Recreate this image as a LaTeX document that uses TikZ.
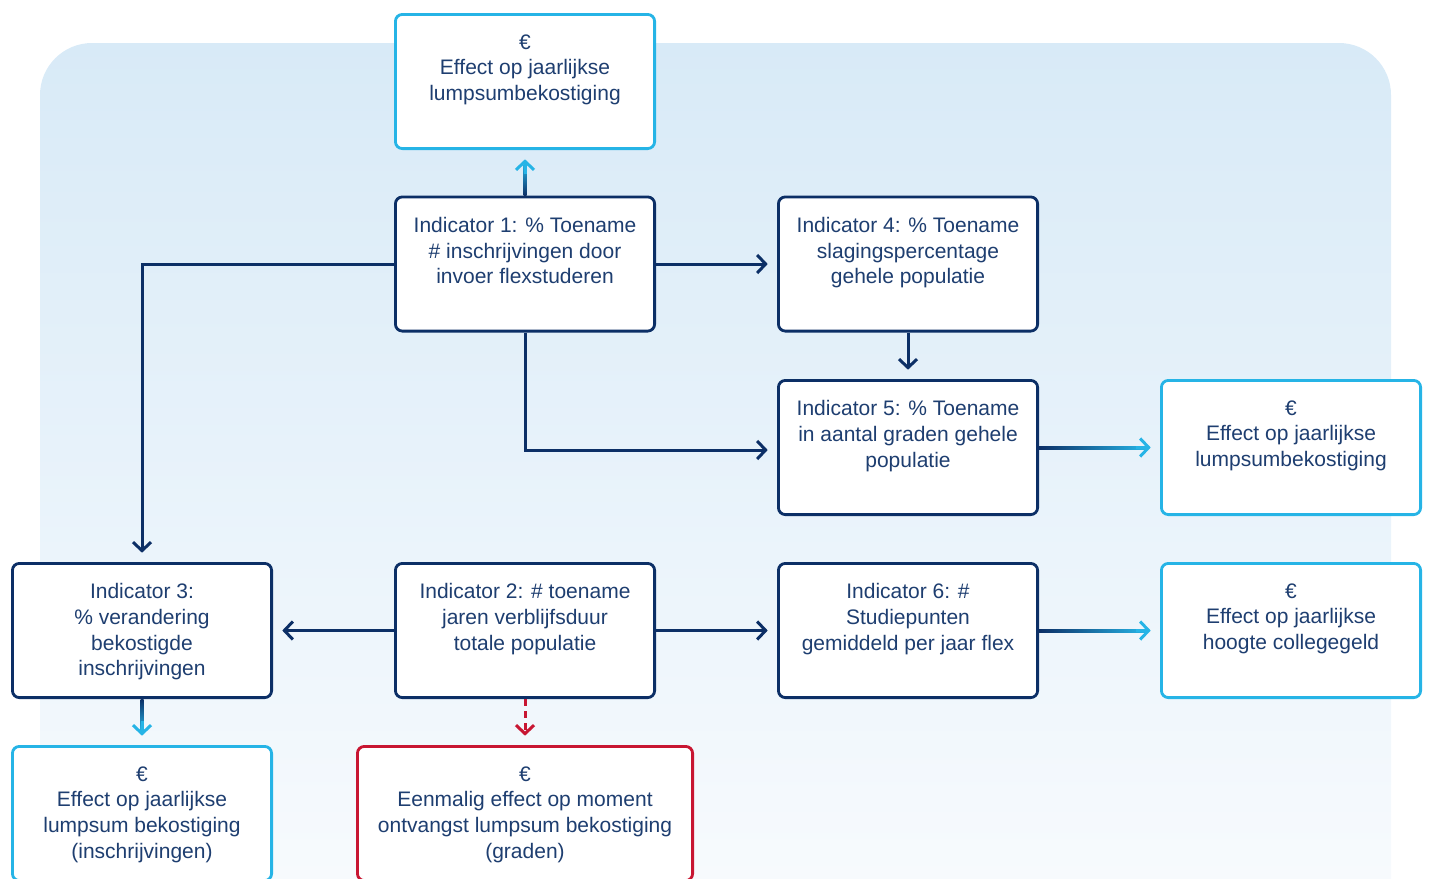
\documentclass[tikz,border=0pt]{standalone}
\usepackage{fontspec}
\setmainfont{Liberation Sans}
\usetikzlibrary{arrows.meta,calc}
\definecolor{navy}{RGB}{12,47,102}
\definecolor{txtc}{RGB}{30,62,112}
\definecolor{cyanb}{RGB}{38,180,230}
\definecolor{redb}{RGB}{200,22,50}
\definecolor{bgtop}{RGB}{216,234,247}
\definecolor{bgbot}{RGB}{250,252,254}
\begin{document}
\begin{tikzpicture}[x=1pt,y=-1pt,
  box/.style={draw=navy, line width=2.8pt, rounded corners=7pt, fill=white,
    minimum width=259.2pt, minimum height=134.2pt, inner sep=0pt},
  ebox/.style={box, draw=cyanb},
  rbox/.style={box, draw=redb, minimum width=335.2pt},
  lbl/.style={text=txtc, align=center, font=\fontsize{21}{25.6}\selectfont,
    anchor=north, inner sep=0pt},
  tipa/.style={-{Straight Barb[length=8.5pt,width=18pt]}},
  conn/.style={draw=navy, line width=3pt, tipa, shorten >=9.3pt, line join=miter},
  cconn/.style={draw=cyanb, line width=3pt, tipa, shorten >=9.3pt},
]
\useasboundingbox (0,0) rectangle (1429,878);
\clip (0,0) rectangle (1429,878);

% background panel
\shade[top color=bgtop, bottom color=bgbot, rounded corners=52pt]
  (40,43) rectangle (1391,960);

% boxes
\node[ebox] (top) at (525,81.5) {};
\node[box]  (i1)  at (525,264) {};
\node[box]  (i4)  at (908,264) {};
\node[box]  (i5)  at (908,447.5) {};
\node[ebox] (c1)  at (1291,447.5) {};
\node[box]  (i3)  at (142,630.5) {};
\node[box]  (i2)  at (525,630.5) {};
\node[box]  (i6)  at (908,630.5) {};
\node[ebox] (c2)  at (1291,630.5) {};
\node[ebox] (c3)  at (142,813.5) {};
\node[rbox] (r1)  at (525,813.5) {};

% labels
\node[lbl] (ttop) at ($(top.north)+(0,21.5)$) {€\\Effect op jaarlijkse\\lumpsumbekostiging};
\node[lbl] (ti1) at ($(i1.north)+(0,21.5)$) {Indicator 1: \% Toename\\\# inschrijvingen door\\invoer flexstuderen};
\node[lbl] (ti4) at ($(i4.north)+(0,21.5)$) {Indicator 4: \% Toename\\slagingspercentage\\gehele populatie};
\node[lbl] (ti5) at ($(i5.north)+(0,21.5)$) {Indicator 5: \% Toename\\in aantal graden gehele\\populatie};
\node[lbl] (tc1) at ($(c1.north)+(0,21.5)$) {€\\Effect op jaarlijkse\\lumpsumbekostiging};
\node[lbl] (ti3) at ($(i3.north)+(0,21.5)$) {Indicator 3:\\\% verandering\\bekostigde\\inschrijvingen};
\node[lbl] (ti2) at ($(i2.north)+(0,21.5)$) {Indicator 2: \# toename\\jaren verblijfsduur\\totale populatie};
\node[lbl] (ti6) at ($(i6.north)+(0,21.5)$) {Indicator 6: \#\\Studiepunten\\gemiddeld per jaar flex};
\node[lbl] (tc2) at ($(c2.north)+(0,21.5)$) {€\\Effect op jaarlijkse\\hoogte collegegeld};
\node[lbl] (tc3) at ($(c3.north)+(0,21.5)$) {€\\Effect op jaarlijkse\\lumpsum bekostiging\\(inschrijvingen)};
\node[lbl] (tr1) at ($(r1.north)+(0,21.5)$) {€\\Eenmalig effect op moment\\ontvangst lumpsum bekostiging\\(graden)};

% navy connectors
\draw[conn] (i1.east) -- (i4.west);
\draw[conn] (i1.west) -| (i3.north);
\draw[conn] ($(i1.south)$) |- ($(i5.west)+(0,2.5)$);
\draw[conn] (i4.south) -- (i5.north);
\draw[conn] (i2.west) -- (i3.east);
\draw[conn] (i2.east) -- (i6.west);

% gradient connectors into cyan boxes
\shade[bottom color=navy, top color=cyanb] ($(i1.north)+(-1.5,0)$) rectangle ($(top.south)+(1.5,14)$);
\draw[cconn] ($(top.south)+(0,24)$) -- (top.south);
\shade[left color=navy, right color=cyanb] ($(i5.east)+(0,-1.5)$) rectangle ($(c1.west)+(-14,1.5)$);
\draw[cconn] ($(c1.west)+(-24,0)$) -- (c1.west);
\shade[left color=navy, right color=cyanb] ($(i6.east)+(0,-1.5)$) rectangle ($(c2.west)+(-14,1.5)$);
\draw[cconn] ($(c2.west)+(-24,0)$) -- (c2.west);
\shade[bottom color=cyanb, top color=navy] ($(i3.south)+(-1.5,0)$) rectangle ($(c3.north)+(1.5,-14)$);
\draw[cconn] ($(c3.north)+(0,-24)$) -- (c3.north);

% dashed red
\draw[draw=redb, line width=3pt, tipa, shorten >=9.3pt, dash pattern=on 7pt off 5pt] (i2.south) -- (r1.north);
\end{tikzpicture}
\end{document}
